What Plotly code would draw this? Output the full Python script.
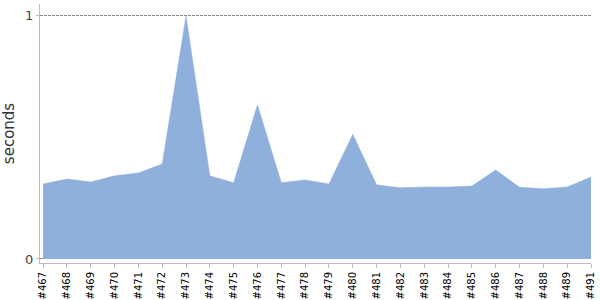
import plotly.graph_objects as go

builds = ["#467", "#468", "#469", "#470", "#471", "#472", "#473", "#474", "#475", "#476",
          "#477", "#478", "#479", "#480", "#481", "#482", "#483", "#484", "#485", "#486",
          "#487", "#488", "#489", "#491"]
seconds = [0.309, 0.329, 0.317, 0.342, 0.354, 0.391, 1.0, 0.342, 0.314, 0.634,
           0.314, 0.325, 0.309, 0.513, 0.305, 0.293, 0.296, 0.296, 0.300, 0.366,
           0.295, 0.289, 0.296, 0.337]

fill_color = "#8fb0da"

fig = go.Figure(go.Scatter(
    x=list(range(len(builds))), y=seconds, mode="lines",
    fill="tozeroy", fillcolor=fill_color,
    line=dict(color=fill_color, width=0.5),
    hoverinfo="skip",
))

fig.update_layout(
    width=600, height=300,
    margin=dict(l=40, r=9, t=4, b=37),
    paper_bgcolor="white", plot_bgcolor="white",
    showlegend=False,
    font=dict(family="DejaVu Sans", color="#333"),
    xaxis=dict(
        tickmode="array", tickvals=list(range(len(builds))), ticktext=builds,
        tickangle=-90, tickfont=dict(size=10, color="#000"),
        range=[-0.13, len(builds) - 1],
        showgrid=False, zeroline=False,
        showline=True, linecolor="#bbbbbb", linewidth=1,
        ticks="outside", ticklen=4, tickcolor="#bbbbbb",
        automargin=False,
    ),
    yaxis=dict(
        tickmode="array", tickvals=[0, 1], ticktext=["0", "1"],
        tickfont=dict(size=13, color="#444"),
        range=[-0.0165, 1.049],
        showgrid=True, gridcolor="#888888", griddash="3px,1px", gridwidth=1,
        zeroline=False,
        showline=True, linecolor="#bbbbbb", linewidth=1,
        ticks="outside", ticklen=3, tickcolor="#bbbbbb",
        title=dict(text="seconds", font=dict(size=15, color="#333"), standoff=8),
        automargin=False,
    ),
)

fig.write_html("out.html")
